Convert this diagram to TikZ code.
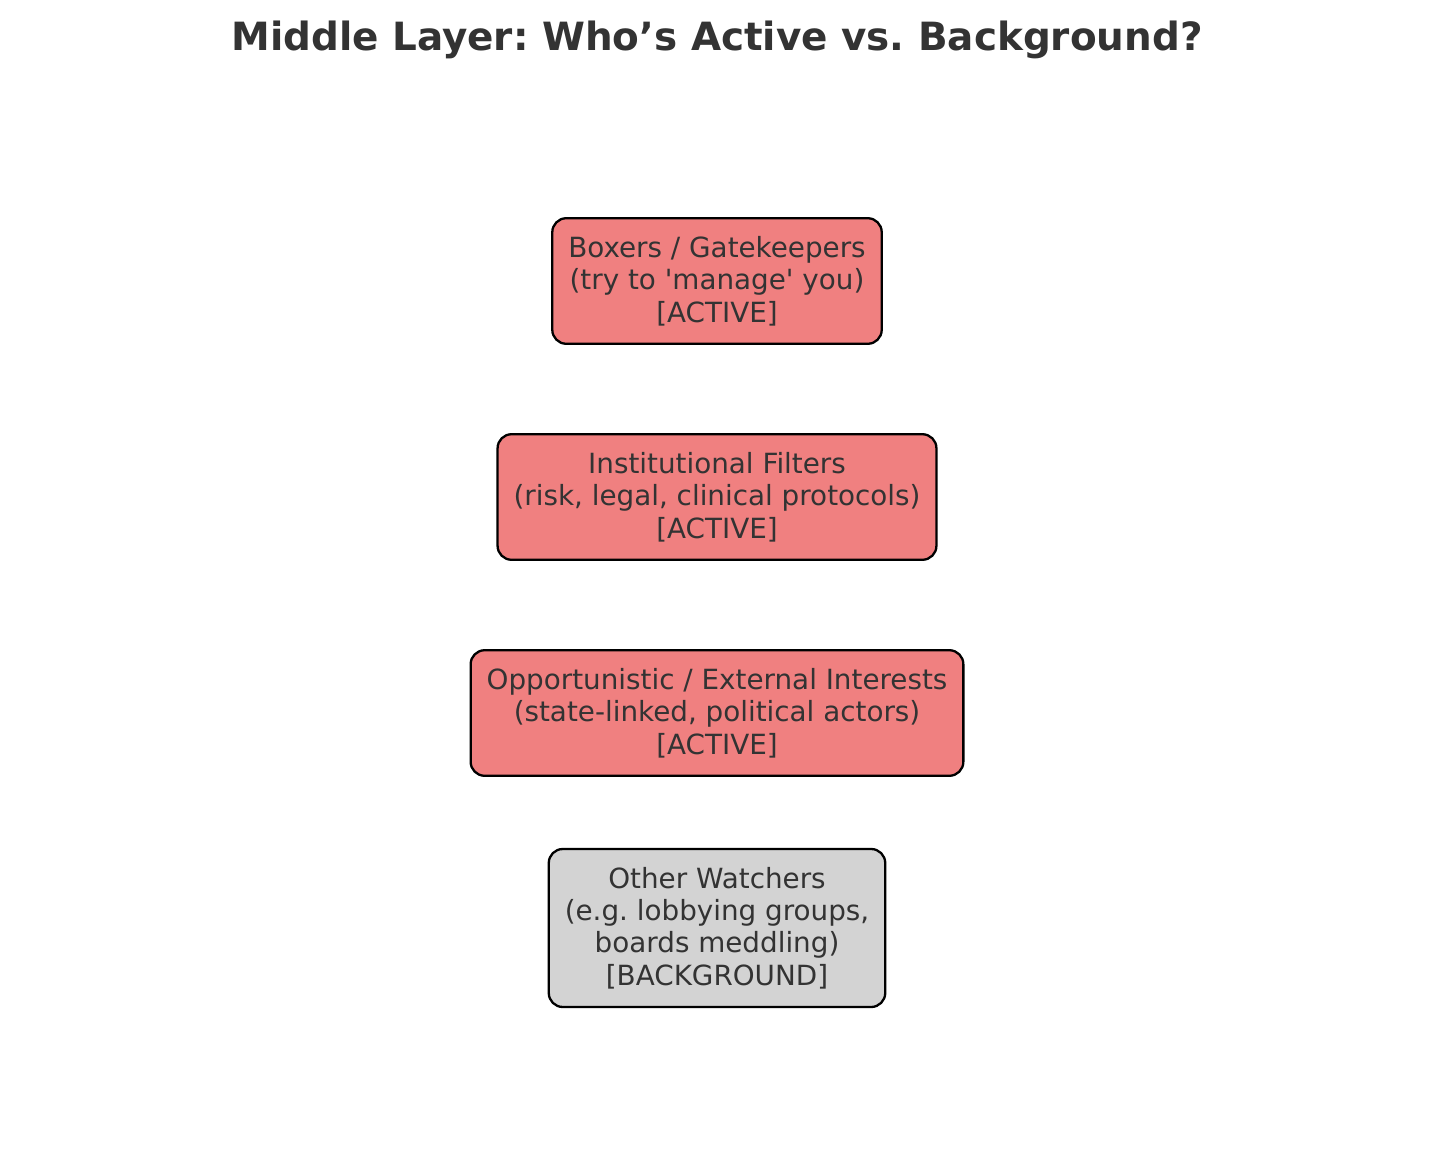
\documentclass[tikz,border=0pt]{standalone}
\usepackage{fontspec}
\setmainfont{DejaVu Sans}
\usetikzlibrary{positioning}
\frenchspacing

\definecolor{activered}{HTML}{F08080}
\definecolor{backgray}{HTML}{D3D3D3}
\definecolor{textgray}{HTML}{333333}

\begin{document}
\begin{tikzpicture}[
	x=1pt, y=1pt,
	node distance=216pt,
	layer/.style={draw=black, line width=2.3pt, rounded corners=14pt,
		align=center, text=textgray, inner xsep=16pt, inner ysep=18pt,
		font=\fontsize{27.8}{32.4}\selectfont},
	active/.style={layer, fill=activered},
	passive/.style={layer, fill=backgray}
]
\useasboundingbox (0,0) rectangle (1434,-1164);

\node[font=\bfseries\fontsize{38.9}{44}\selectfont, text=textgray] (title) at (717,-40) {Middle Layer: Who’s Active vs. Background?};

\node[active] (box) at (717,-281) {Boxers / Gatekeepers\\(try to \textquotesingle manage\textquotesingle\ you)\\{[}ACTIVE{]}};
\node[active] (filt) [below of=box] {Institutional Filters\\(risk, legal, clinical protocols)\\{[}ACTIVE{]}};
\node[active] (opp) [below of=filt] {Opportunistic / External Interests\\(state-linked, political actors)\\{[}ACTIVE{]}};
\node[passive] (watch) [below of=opp, yshift=1pt] {Other Watchers\\(e.g. lobbying groups,\\boards meddling)\\{[}BACKGROUND{]}};
\end{tikzpicture}
\end{document}
